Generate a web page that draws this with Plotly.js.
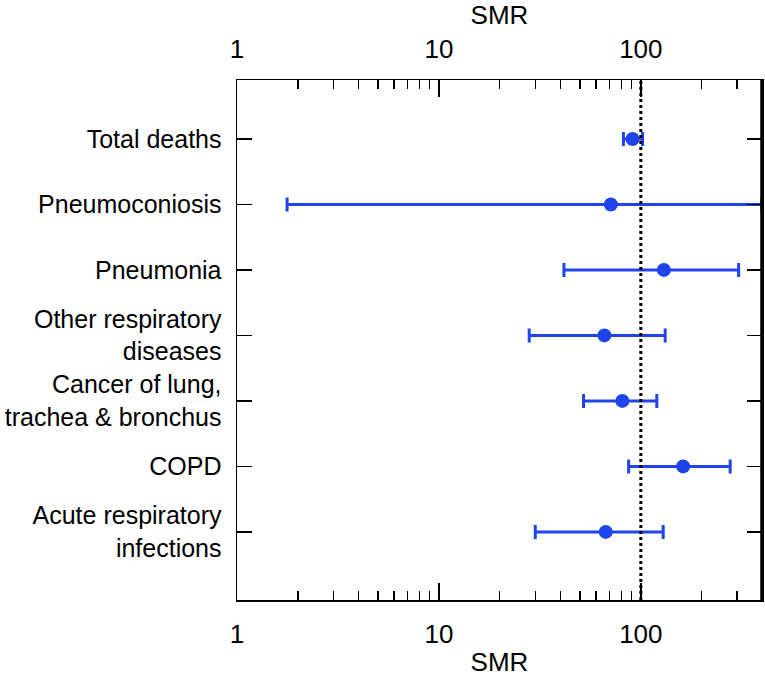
<!DOCTYPE html>
<html>
<head>
<meta charset="utf-8">
<script src="https://cdn.plot.ly/plotly-3.0.1.min.js"></script>
<style>html,body{margin:0;padding:0;background:#fff;}#chart{width:765px;height:679px;}</style>
</head>
<body>
<div id="chart"></div>
<script>
// Data (top to bottom)
const categories = ["Total deaths", "Pneumoconiosis", "Pneumonia", "Other respiratory<br>diseases", "Cancer of lung,<br>trachea & bronchus", "COPD", "Acute respiratory<br>infections"];
const smr =   [91, 71, 130, 66, 81, 162, 67];
const lower = [82, 1.77, 41.6, 28, 52, 87, 30];
const upper = [102, 397, 305, 132, 120, 277, 129];
const referenceSMR = 100;
const majorTicks = [1, 10, 100];
const minorTicks = [2,3,4,5,6,7,8,9,20,30,40,50,60,70,80,90,200,300];

const n = categories.length;
const ypos = categories.map((c, i) => n - 1 - i);
const errPlus = smr.map((v, i) => upper[i] - v);
const errMinus = smr.map((v, i) => v - lower[i]);

const blue = '#1e44ea';
const font = {family: 'Liberation Sans, Arial, sans-serif', size: 26, color: '#000'};
const yfont = {family: 'Liberation Sans, Arial, sans-serif', size: 25, color: '#000'};

const trace = {
  x: smr, y: ypos, type: 'scatter', mode: 'markers',
  marker: {color: blue, size: 14},
  error_x: {type: 'data', symmetric: false, array: errPlus, arrayminus: errMinus,
            color: blue, thickness: 3, width: 7},
  cliponaxis: false, showlegend: false, hoverinfo: 'x+y'
};

const xCommon = {
  type: 'log', range: [0, 2.6], tickvals: majorTicks, ticktext: majorTicks.map(String),
  ticks: 'inside', ticklen: 17, tickwidth: 1.5, tickcolor: '#000',
  minor: {tickvals: minorTicks, ticks: 'inside', ticklen: 9, tickwidth: 1.5, tickcolor: '#000'},
  showline: true, linecolor: '#000', linewidth: 1.5, showgrid: false, zeroline: false,
  tickfont: font, ticklabelstandoff: 10, fixedrange: true
};

const layout = {
  width: 765, height: 679,
  margin: {l: 237, r: 3, t: 80, b: 79},
  paper_bgcolor: '#fff', plot_bgcolor: '#fff',
  font: font,
  xaxis: Object.assign({}, xCommon, {side: 'bottom', title: {text: 'SMR', font: font, standoff: 5}}),
  xaxis2: Object.assign({}, xCommon, {side: 'top', overlaying: 'x', matches: 'x', title: {text: 'SMR', font: font, standoff: 9}}),
  yaxis: {
    range: [-1.04, 6.9], tickvals: ypos, ticktext: categories,
    ticks: 'inside', ticklen: 15, tickwidth: 1.5, tickcolor: '#000',
    showline: true, linecolor: '#000', linewidth: 1.5, mirror: 'ticks',
    showgrid: false, zeroline: false, tickfont: yfont, ticklabelstandoff: 9, fixedrange: true
  },
  shapes: [
    {type: 'line', xref: 'x', yref: 'paper', x0: referenceSMR, x1: referenceSMR, y0: 0, y1: 1,
     line: {color: '#000', width: 3, dash: 'dot'}},
    {type: 'line', xref: 'paper', yref: 'paper', x0: 1, x1: 1, y0: 0, y1: 1,
     line: {color: '#000', width: 3.5}}
  ]
};

const dummy = {x: [referenceSMR], y: [0], xaxis: 'x2', yaxis: 'y', type: 'scatter', mode: 'markers',
  marker: {opacity: 0}, showlegend: false, hoverinfo: 'skip'};

Plotly.newPlot('chart', [dummy, trace], layout, {displayModeBar: false, staticPlot: true});
</script>
</body>
</html>
